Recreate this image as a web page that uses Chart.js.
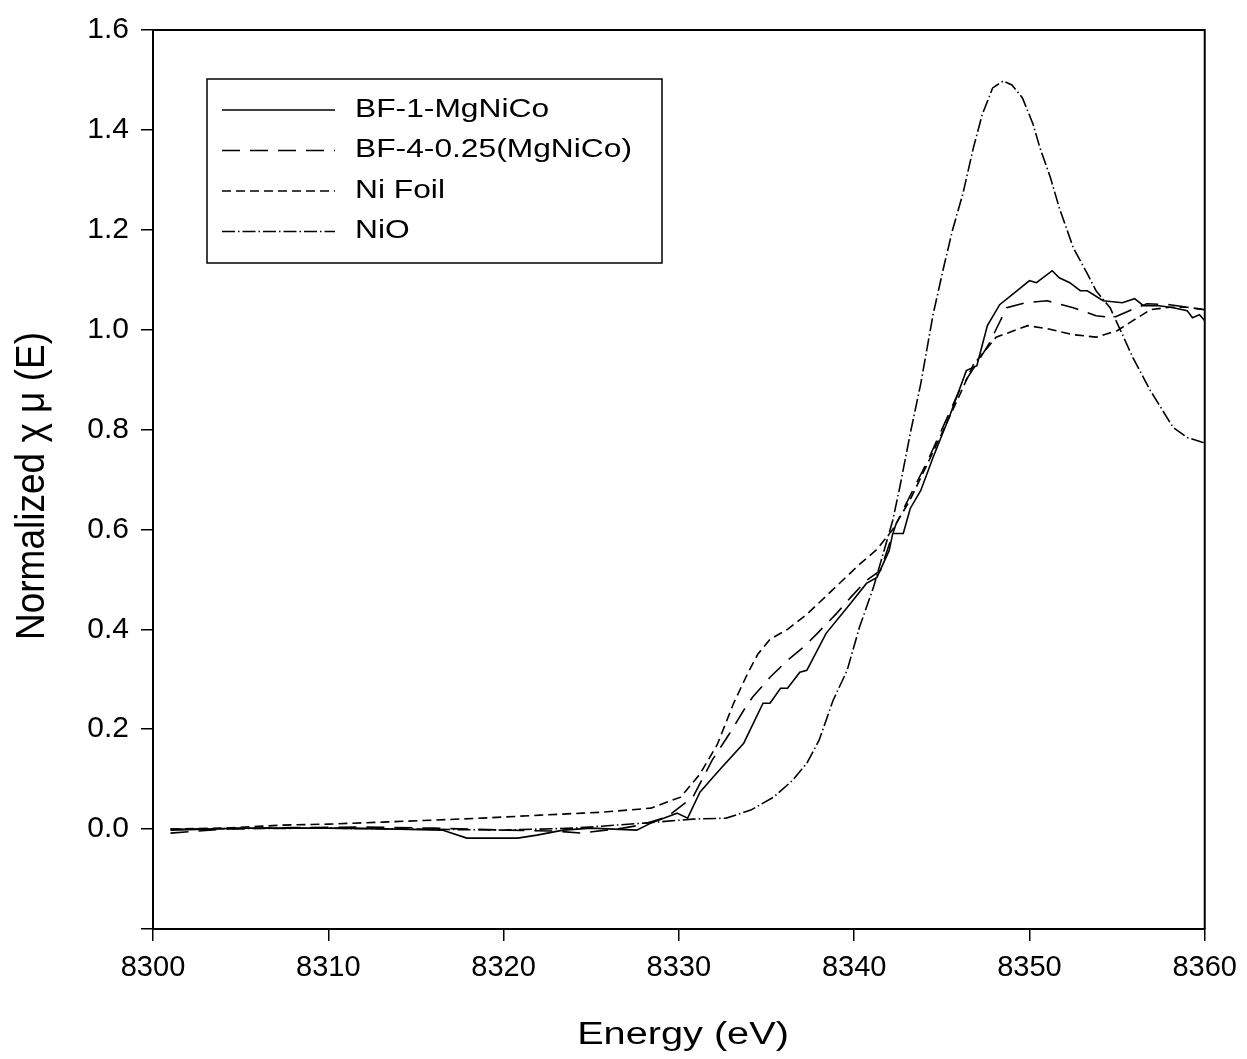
<!DOCTYPE html>
<html>
<head>
<meta charset="utf-8">
<script src="https://cdn.jsdelivr.net/npm/chart.js@4"></script>
<style>
  html, body { margin: 0; padding: 0; background: #fff; }
  #wrap { width: 1247px; height: 1059px; }
</style>
</head>
<body>
<div id="wrap"><canvas id="xanesChart" width="1247" height="1059"></canvas></div>
<script>
// series labels
const seriesLabels = ["BF-1-MgNiCo", "BF-4-0.25(MgNiCo)", "Ni Foil", "NiO"];

// BF-1-MgNiCo (solid)
const bf1E = [8301, 8305, 8310, 8314, 8316.5, 8317.9, 8320.8, 8321.9, 8323.4, 8325, 8327.6, 8328.4, 8329.9, 8330.5, 8331.2, 8332.3, 8333.7, 8334.8, 8335.2, 8335.8, 8336.2, 8336.9, 8337.3, 8338.4, 8339.8, 8340.7, 8341.3, 8342.0, 8342.2, 8342.8, 8343.2, 8343.8, 8344.5, 8345.5, 8346.4, 8347.0, 8347.6, 8348.3, 8349.3, 8350.0, 8350.4, 8351.3, 8351.7, 8352.3, 8352.9, 8353.3, 8354.2, 8355.3, 8356.0, 8356.5, 8357.4, 8358.2, 8359.0, 8359.3, 8359.7, 8360];
const bf1Mu = [-0.002, 0.002, 0.002, 0.0, -0.002, -0.018, -0.018, -0.012, -0.002, 0.002, -0.002, 0.012, 0.032, 0.022, 0.074, 0.118, 0.172, 0.252, 0.252, 0.282, 0.282, 0.314, 0.318, 0.392, 0.452, 0.492, 0.504, 0.558, 0.592, 0.592, 0.642, 0.678, 0.744, 0.832, 0.918, 0.928, 1.008, 1.05, 1.078, 1.098, 1.094, 1.118, 1.104, 1.094, 1.078, 1.078, 1.058, 1.054, 1.062, 1.048, 1.048, 1.044, 1.038, 1.024, 1.03, 1.018];

// BF-4-0.25(MgNiCo) (long dash)
const bf4E = [8301, 8304, 8308, 8312, 8316, 8320, 8323, 8324.4, 8326.8, 8327.8, 8329.3, 8330.8, 8331.9, 8332.9, 8333.7, 8334.2, 8335.2, 8336.2, 8337.1, 8337.9, 8339.0, 8339.8, 8340.7, 8341.5, 8342.4, 8344.2, 8346.0, 8347.2, 8347.7, 8348.7, 8349.8, 8351.0, 8352.5, 8353.8, 8354.8, 8355.7, 8356.7, 8358, 8359, 8360];
const bf4Mu = [-0.008, 0.0, 0.003, 0.004, 0.002, -0.002, -0.004, -0.008, 0.002, 0.008, 0.024, 0.064, 0.138, 0.192, 0.238, 0.264, 0.304, 0.338, 0.364, 0.392, 0.432, 0.464, 0.498, 0.518, 0.612, 0.738, 0.878, 0.944, 0.972, 1.044, 1.054, 1.058, 1.044, 1.028, 1.024, 1.038, 1.052, 1.05, 1.045, 1.04];

// Ni Foil (short dash)
const niFoilE = [8301, 8304, 8307.4, 8310, 8313.1, 8316, 8318.8, 8322.1, 8324.5, 8325.7, 8328.4, 8330.1, 8331.2, 8332.2, 8333.1, 8333.9, 8334.5, 8335.2, 8336.2, 8337.3, 8338.8, 8340.3, 8341.3, 8342.2, 8343.2, 8344.3, 8345.9, 8346.8, 8348.1, 8349.9, 8351.0, 8352.5, 8353.8, 8355.0, 8355.9, 8356.9, 8358, 8359, 8360];
const niFoilMu = [0.0, 0.002, 0.008, 0.01, 0.014, 0.018, 0.022, 0.028, 0.032, 0.034, 0.042, 0.064, 0.11, 0.17, 0.25, 0.31, 0.35, 0.38, 0.40, 0.43, 0.48, 0.53, 0.56, 0.60, 0.66, 0.74, 0.86, 0.93, 0.985, 1.008, 1.002, 0.99, 0.985, 0.998, 1.018, 1.04, 1.045, 1.045, 1.04];

// NiO (dash-dot)
const nioE = [8301, 8305, 8310, 8315, 8320, 8324, 8328, 8330.8, 8332.7, 8334.1, 8335.4, 8336.5, 8337.3, 8338.0, 8338.8, 8339.6, 8340.3, 8341.1, 8342.2, 8342.6, 8343.2, 8343.8, 8344.5, 8345.1, 8345.6, 8346.2, 8346.8, 8347.3, 8347.9, 8348.5, 8349.0, 8349.6, 8350.2, 8350.6, 8351.2, 8351.7, 8352.5, 8353.3, 8353.8, 8354.6, 8355.2, 8355.9, 8356.9, 8357.6, 8358.2, 8359.0, 8359.9, 8360];
const nioMu = [0.0, 0.001, 0.002, 0.0, -0.002, 0.002, 0.012, 0.02, 0.022, 0.038, 0.064, 0.098, 0.132, 0.178, 0.258, 0.318, 0.404, 0.484, 0.618, 0.684, 0.792, 0.892, 1.03, 1.124, 1.198, 1.272, 1.364, 1.43, 1.484, 1.498, 1.49, 1.464, 1.412, 1.364, 1.304, 1.244, 1.164, 1.112, 1.078, 1.044, 0.998, 0.944, 0.878, 0.838, 0.804, 0.784, 0.774, 0.774];

// axis ticks
const xTicks = [8300, 8310, 8320, 8330, 8340, 8350, 8360];
const yTicks = [-0.2, 0.0, 0.2, 0.4, 0.6, 0.8, 1.0, 1.2, 1.4, 1.6];

const xTitle = "Energy (eV)";
const yTitle = "Normalized \u03C7 \u03BC (E)";

const FONT = "'Liberation Sans', Arial, sans-serif";

function toPoints(xs, ys) {
    return xs.map((x, i) => ({ x: x, y: ys[i] }));
}

const dashes = [[], [18, 10], [9, 5], [13, 3, 1.5, 3]];
const seriesData = [[bf1E, bf1Mu], [bf4E, bf4Mu], [niFoilE, niFoilMu], [nioE, nioMu]];

// frame on top + right, axis titles (a bit wide like the original) and boxed legend
const framePlugin = {
    id: "frame",
    afterDraw(chart) {
        const { ctx, chartArea } = chart;
        ctx.save();
        ctx.strokeStyle = "#000";
        ctx.fillStyle = "#000";
        ctx.lineWidth = 2;
        ctx.beginPath();
        ctx.moveTo(chartArea.left, chartArea.top);
        ctx.lineTo(chartArea.right, chartArea.top);
        ctx.lineTo(chartArea.right, chartArea.bottom);
        ctx.stroke();

        // x title
        ctx.save();
        ctx.font = "31px " + FONT;
        ctx.textAlign = "center";
        ctx.textBaseline = "alphabetic";
        ctx.translate(683, 1044);
        ctx.scale(1.28, 1);
        ctx.fillText(xTitle, 0, 0);
        ctx.restore();

        // y title
        ctx.save();
        ctx.font = "37px " + FONT;
        ctx.textAlign = "center";
        ctx.textBaseline = "middle";
        ctx.translate(33, 486);
        ctx.rotate(-Math.PI / 2);
        ctx.scale(1, 1.12);
        ctx.fillText(yTitle, 0, 0);
        ctx.restore();

        // legend box
        const bx = 207, by = 79, bw = 455, bh = 184;
        ctx.lineWidth = 1.5;
        ctx.strokeRect(bx, by, bw, bh);
        ctx.font = "25px " + FONT;
        ctx.textBaseline = "middle";
        chart.data.datasets.forEach((ds, i) => {
            const yy = by + 31 + i * 40.5;
            ctx.setLineDash(ds.borderDash || []);
            ctx.lineWidth = 1.6;
            ctx.beginPath();
            ctx.moveTo(bx + 15, yy);
            ctx.lineTo(bx + 128, yy);
            ctx.stroke();
            ctx.setLineDash([]);
            ctx.save();
            ctx.translate(bx + 148, yy);
            ctx.scale(1.27, 1);
            ctx.fillText(ds.label, 0, 0);
            ctx.restore();
        });
        ctx.restore();
    }
};

const ctx = document.getElementById("xanesChart").getContext("2d");
new Chart(ctx, {
    type: "scatter",
    data: {
        datasets: seriesLabels.map((lbl, i) => ({
            label: lbl,
            data: toPoints(seriesData[i][0], seriesData[i][1]),
            showLine: true,
            borderColor: "#000",
            backgroundColor: "#000",
            borderWidth: 1.6,
            borderDash: dashes[i],
            pointRadius: 0,
            tension: 0
        }))
    },
    options: {
        responsive: false,
        animation: false,
        layout: { padding: { top: 29, right: 42, left: 0, bottom: 0 } },
        plugins: {
            legend: { display: false },
            tooltip: { enabled: false }
        },
        scales: {
            x: {
                type: "linear",
                min: 8300,
                max: 8360,
                afterBuildTicks: (s) => { s.ticks = xTicks.map(v => ({ value: v })); },
                afterFit: (s) => { s.height = 130; },
                border: { color: "#000", width: 2 },
                grid: { drawOnChartArea: false, color: "#000", tickLength: 12, lineWidth: 1.5 },
                ticks: {
                    color: "#000",
                    font: { family: FONT, size: 29 },
                    padding: 10,
                    maxRotation: 0,
                    callback: (v) => String(v)
                },
                title: { display: false }
            },
            y: {
                type: "linear",
                min: -0.2,
                max: 1.6,
                afterBuildTicks: (s) => { s.ticks = yTicks.map(v => ({ value: v })); },
                afterFit: (s) => { s.width = 153; },
                border: { color: "#000", width: 2 },
                grid: { drawOnChartArea: false, color: "#000", tickLength: 12, lineWidth: 1.5 },
                ticks: {
                    color: "#000",
                    font: { family: FONT, size: 30 },
                    padding: 12,
                    callback: (v) => (v < -0.1 ? "" : v.toFixed(1))
                },
                title: { display: false }
            }
        }
    },
    plugins: [framePlugin]
});
</script>
</body>
</html>
